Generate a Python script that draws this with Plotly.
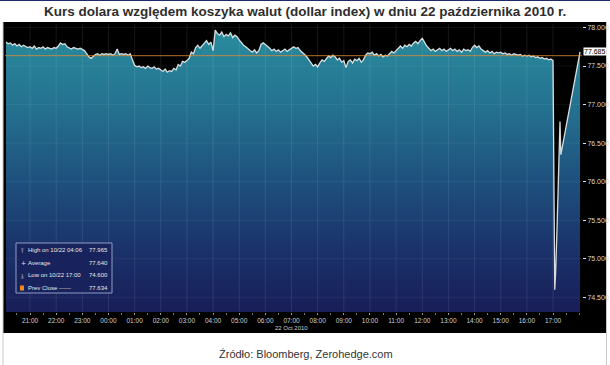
import plotly.graph_objects as go
import pandas as pd

W, H = 610, 365


def fx(px):
    return px / W


def fy(py):
    return 1 - py / H


title_text = "Kurs dolara względem koszyka walut (dollar index) w dniu 22 października 2010 r."
source_text = "Źródło: Bloomberg, Zerohedge.com"
date_label = "22 Oct 2010"

# 5-minute readings of the dollar index, starting 21 Oct 2010 20:05
start_time = "2010-10-21 20:05"
h20 = [77.81, 77.79, 77.80, 77.77, 77.79, 77.76, 77.78, 77.75, 77.77, 77.76, 77.74]
h21 = [77.75, 77.73, 77.76, 77.72, 77.74, 77.73, 77.75, 77.72, 77.74, 77.73, 77.72, 77.74]
h22 = [77.73, 77.76, 77.80, 77.78, 77.79, 77.75, 77.74, 77.72, 77.74, 77.73, 77.72, 77.73]
h23 = [77.72, 77.70, 77.66, 77.62, 77.60, 77.63, 77.65, 77.66, 77.64, 77.66, 77.65, 77.66]
h00 = [77.65, 77.66, 77.64, 77.66, 77.72, 77.65, 77.66, 77.65, 77.66, 77.64, 77.66, 77.58]
h01 = [77.51, 77.49, 77.50, 77.48, 77.49, 77.47, 77.50, 77.48, 77.47, 77.49, 77.46, 77.47]
h02 = [77.45, 77.43, 77.46, 77.42, 77.44, 77.43, 77.47, 77.45, 77.52, 77.50, 77.56, 77.55]
h03 = [77.57, 77.60, 77.68, 77.66, 77.74, 77.77, 77.73, 77.76, 77.79, 77.83, 77.78, 77.81]
h04 = [77.70, 77.965, 77.92, 77.90, 77.94, 77.88, 77.91, 77.89, 77.93, 77.87, 77.90, 77.88]
h05 = [77.84, 77.80, 77.77, 77.75, 77.72, 77.70, 77.68, 77.71, 77.67, 77.70, 77.78, 77.80]
h06 = [77.78, 77.76, 77.73, 77.70, 77.72, 77.69, 77.71, 77.68, 77.70, 77.72, 77.69, 77.71]
h07 = [77.74, 77.75, 77.73, 77.74, 77.70, 77.68, 77.65, 77.62, 77.58, 77.55, 77.50, 77.52]
h08 = [77.49, 77.54, 77.58, 77.56, 77.60, 77.63, 77.61, 77.64, 77.62, 77.58, 77.60, 77.55]
h09 = [77.57, 77.48, 77.56, 77.58, 77.54, 77.59, 77.57, 77.60, 77.55, 77.58, 77.64, 77.67]
h10 = [77.66, 77.68, 77.64, 77.66, 77.63, 77.65, 77.62, 77.64, 77.63, 77.66, 77.69, 77.67]
h11 = [77.70, 77.74, 77.76, 77.73, 77.77, 77.75, 77.78, 77.76, 77.80, 77.82, 77.79, 77.83]
h12 = [77.86, 77.81, 77.76, 77.73, 77.70, 77.72, 77.69, 77.71, 77.73, 77.70, 77.72, 77.69]
h13 = [77.71, 77.73, 77.70, 77.72, 77.69, 77.71, 77.68, 77.72, 77.70, 77.71, 77.69, 77.74]
h14 = [77.77, 77.74, 77.76, 77.72, 77.70, 77.68, 77.70, 77.67, 77.69, 77.66, 77.68, 77.67]
h15 = [77.68, 77.66, 77.67, 77.65, 77.66, 77.64, 77.66, 77.65, 77.64, 77.65, 77.63, 77.64]
h16 = [77.63, 77.64, 77.62, 77.63, 77.61, 77.62, 77.60, 77.61, 77.59, 77.60, 77.58, 77.59]
h17 = [77.57]

# flash crash & rebound after 17:00
tail_times = ["2010-10-22 17:04", "2010-10-22 17:06", "2010-10-22 17:10",
              "2010-10-22 17:16", "2010-10-22 17:18", "2010-10-22 18:02"]
tail_values = [74.60, 74.82, 75.55, 76.78, 76.35, 77.685]

prev_close = 77.634
last_value = 77.685
y_ticks = [74.5, 75.0, 75.5, 76.0, 76.5, 77.0, 77.5, 78.0]
y_range = [74.31, 78.045]
x_range = ["2010-10-21 20:02:36", "2010-10-22 18:06:30"]
hour_ticks = pd.date_range("2010-10-21 21:00", "2010-10-22 17:00", freq="h")

legend_rows = [
    ("⤒", "High on 10/22 04:06", "77.965"),
    ("+", "Average", "77.640"),
    ("⤓", "Low on 10/22 17:00", "74.600"),
    ("", "Prev Close ------", "77.634"),
]

main_values = h20 + h21 + h22 + h23 + h00 + h01 + h02 + h03 + h04 + h05 + h06 + \
    h07 + h08 + h09 + h10 + h11 + h12 + h13 + h14 + h15 + h16 + h17
main_times = pd.date_range(start_time, periods=len(main_values), freq="5min")
times = list(main_times) + list(pd.to_datetime(tail_times))
values = main_values + tail_values

SMALL = "Liberation Sans, Arial, sans-serif"

fig = go.Figure()
fig.add_trace(go.Scatter(
    x=times, y=values, mode="lines",
    line=dict(color="rgba(232,236,236,0.92)", width=1.3),
    fill="tozeroy",
    fillgradient=dict(
        type="vertical",
        colorscale=[[0.0, "rgb(24,30,88)"], [0.2, "rgb(26,48,105)"],
                    [0.45, "rgb(30,80,125)"], [0.7, "rgb(36,112,143)"],
                    [1.0, "rgb(42,142,158)"]],
        start=y_range[0], stop=y_range[1]),
    hoverinfo="skip", showlegend=False,
))

shapes = []
# black chart panel
shapes.append(dict(type="rect", xref="paper", yref="paper", layer="below",
                   x0=fx(3), x1=fx(607), y0=fy(333), y1=fy(22),
                   fillcolor="black", line=dict(width=0)))
# frame lines
shapes.append(dict(type="line", xref="paper", yref="paper",
                   x0=0, x1=1, y0=fy(0.5), y1=fy(0.5),
                   line=dict(color="#1c2a66", width=1)))
for px in (3, 606.5):
    shapes.append(dict(type="line", xref="paper", yref="paper",
                       x0=fx(px), x1=fx(px), y0=0, y1=fy(22),
                       line=dict(color="#c9c9c9", width=1)))
# grid lines on top of the fill
for t in hour_ticks:
    shapes.append(dict(type="line", xref="x", yref="paper", layer="above",
                       x0=t, x1=t, y0=fy(312), y1=fy(24),
                       line=dict(color="rgba(255,255,255,0.09)", width=1)))
for v in y_ticks:
    shapes.append(dict(type="line", xref="paper", yref="y", layer="above",
                       x0=fx(5), x1=fx(582), y0=v, y1=v,
                       line=dict(color="rgba(255,255,255,0.06)", width=1)))
# previous close
shapes.append(dict(type="line", xref="paper", yref="y", layer="above",
                   x0=fx(5), x1=fx(582), y0=prev_close, y1=prev_close,
                   line=dict(color="rgba(225,140,50,0.8)", width=1)))
# legend box
shapes.append(dict(type="rect", xref="paper", yref="paper", layer="above",
                   x0=fx(16), x1=fx(112), y0=fy(293), y1=fy(243),
                   fillcolor="rgba(24,34,92,0.9)",
                   line=dict(color="#8f9cc4", width=1)))
shapes.append(dict(type="rect", xref="paper", yref="paper", layer="above",
                   x0=fx(20), x1=fx(24), y0=fy(290.5), y1=fy(285.5),
                   fillcolor="#f08a1c", line=dict(width=0)))

annotations = []
annotations.append(dict(text="<b>" + title_text + "</b>", xref="paper", yref="paper",
                        x=fx(305), y=fy(12), xanchor="center", yanchor="middle",
                        showarrow=False,
                        font=dict(family="Liberation Sans, Arial, sans-serif",
                                  size=13.5, color="#2e2e2e")))
annotations.append(dict(text=source_text, xref="paper", yref="paper",
                        x=fx(306), y=fy(354), xanchor="center", yanchor="middle",
                        showarrow=False,
                        font=dict(family="Liberation Sans, Arial, sans-serif",
                                  size=11, color="#333333")))
annotations.append(dict(text=date_label, xref="x", yref="paper",
                        x="2010-10-22 07:00", y=fy(328), xanchor="center",
                        yanchor="middle", showarrow=False,
                        font=dict(family=SMALL, size=6, color="#cfcfcf")))
annotations.append(dict(text=f"{last_value:.3f}", xref="paper", yref="y",
                        x=fx(583), y=last_value, xanchor="left", yanchor="middle",
                        showarrow=False, bgcolor="white", borderpad=0,
                        font=dict(family=SMALL, size=7, color="black")))
row_y = [250, 262.5, 275, 288]
for (icon, label, val), py in zip(legend_rows, row_y):
    if icon:
        annotations.append(dict(text=icon, xref="paper", yref="paper",
                                x=fx(19), y=fy(py), xanchor="left", yanchor="middle",
                                showarrow=False,
                                font=dict(family="DejaVu Sans, sans-serif", size=6,
                                          color="#e6e6e6")))
    annotations.append(dict(text=label, xref="paper", yref="paper",
                            x=fx(26), y=fy(py), xanchor="left", yanchor="middle",
                            showarrow=False,
                            font=dict(family=SMALL, size=6, color="#e6e6e6")))
    annotations.append(dict(text=val, xref="paper", yref="paper",
                            x=fx(110), y=fy(py), xanchor="right", yanchor="middle",
                            showarrow=False,
                            font=dict(family=SMALL, size=6, color="#e6e6e6")))

fig.update_layout(
    width=W, height=H, margin=dict(l=0, r=0, t=0, b=0),
    paper_bgcolor="white", plot_bgcolor="#4a4747",
    showlegend=False, shapes=shapes, annotations=annotations,
    xaxis=dict(domain=[fx(5), fx(582)], range=x_range, type="date",
               tickvals=list(hour_ticks),
               ticktext=[t.strftime("%H:%M") for t in hour_ticks],
               ticks="outside", ticklen=2, tickcolor="#9a9a9a",
               tickfont=dict(family=SMALL, size=6.5, color="#cfcfcf"),
               showgrid=False, zeroline=False, showline=False,
               minor=dict(ticks="outside", ticklen=1.5, dtick=30 * 60 * 1000,
                          tickcolor="#777777"),
               fixedrange=True),
    yaxis=dict(domain=[fy(312), fy(24)], range=y_range, side="right",
               tickvals=y_ticks, ticktext=[f"{v:.3f}" for v in y_ticks],
               ticks="outside", ticklen=3, tickcolor="#e0e0e0",
               tickfont=dict(family=SMALL, size=7, color="#d8d8d8"),
               showgrid=False, zeroline=False, showline=False,
               fixedrange=True),
)

fig.write_html("out.html")
